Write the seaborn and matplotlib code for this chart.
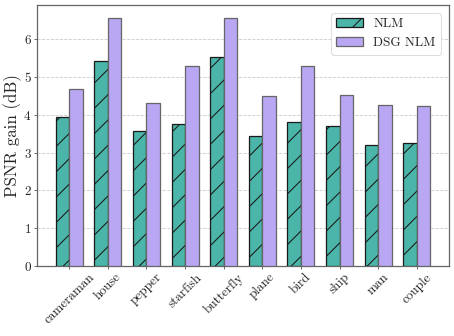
import matplotlib
matplotlib.use("Agg")
import matplotlib.pyplot as plt
import seaborn as sns
import pandas as pd

images = ["cameraman", "house", "pepper", "starfish", "butterfly",
          "plane", "bird", "ship", "man", "couple"]
nlm = [3.93, 5.41, 3.56, 3.75, 5.53, 3.44, 3.82, 3.69, 3.20, 3.24]
dsg_nlm = [4.67, 6.55, 4.31, 5.30, 6.56, 4.50, 5.28, 4.51, 4.26, 4.24]
methods = ["NLM", "DSG NLM"]
colors = ["#4bb5a9", "#b9a7f4"]
edges = ["#1a1a1a", "#666666"]

df = pd.DataFrame({
    "image": images * 2,
    "gain": nlm + dsg_nlm,
    "method": [methods[0]] * len(images) + [methods[1]] * len(images),
})

sns.set_style("white")
plt.rcParams["font.family"] = ["cmr10", "DejaVu Serif"]
plt.rcParams["mathtext.fontset"] = "cm"
plt.rcParams["axes.formatter.use_mathtext"] = True
plt.rcParams["hatch.linewidth"] = 1.0

DPI = 76
fig, ax = plt.subplots(figsize=(454 / DPI, 336 / DPI), dpi=DPI)
fig.subplots_adjust(left=37 / 454, right=449 / 454, top=1 - 5 / 336, bottom=1 - 266 / 336)

sns.barplot(data=df, x="image", y="gain", hue="method", order=images,
            hue_order=methods, palette=colors, width=0.7, gap=0,
            saturation=1, ax=ax, legend=False, zorder=3)

for cont, ec, h in zip(ax.containers, edges, ["/", ""]):
    for p in cont:
        p.set_edgecolor(ec)
        p.set_linewidth(1.2)
        p.set_hatch(h)

ax.set_xlim(-0.835, len(images) - 1 + 0.835)
ax.set_ylim(0, 6.9)
ax.set_xlabel("")
ax.set_ylabel("PSNR gain (dB)", fontsize=16, labelpad=1)
ax.tick_params(axis="x", labelsize=12.5, rotation=45, length=3, pad=2, color="#555555")
ax.tick_params(axis="y", labelsize=12.5, length=3, pad=2, color="#555555")
ax.tick_params(axis="both", bottom=True, left=True, direction="out")
ax.yaxis.grid(True, linestyle="--", color="#cccccc", linewidth=0.8, zorder=0)
ax.set_axisbelow(True)
for s in ax.spines.values():
    s.set_color("#666666")
    s.set_linewidth(1.2)

ax.legend(ax.containers, methods, loc="upper right", fontsize=12.5,
          frameon=True, fancybox=True, framealpha=1, edgecolor="#dddddd",
          borderaxespad=0.6)

fig.savefig("out.png", dpi=DPI)
